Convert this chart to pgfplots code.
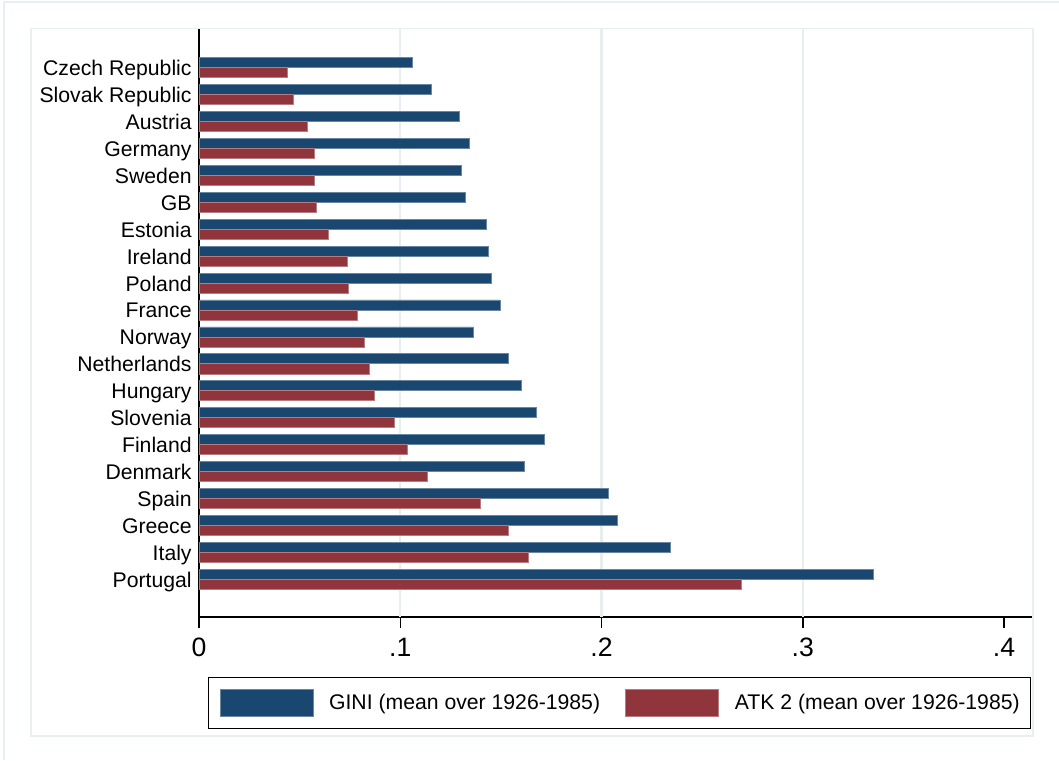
\documentclass[border=0pt]{standalone}
\usepackage{pgfplots}
\usepackage{pgfplotstable}
\pgfplotsset{compat=1.18}
\usepackage{fontspec}
\setmainfont{Liberation Sans}

\definecolor{stnavy}{RGB}{26,71,111}
\definecolor{stmaroon}{RGB}{144,53,59}
\definecolor{gridblue}{RGB}{230,238,240}
\definecolor{framegray}{RGB}{232,239,242}

% position (0 = bottom row), Gini and Atkinson(2) means over 1926-1985
\pgfplotstableread{
idx gini   atk
19  0.1058 0.0439
18  0.1154 0.0470
17  0.1295 0.0540
16  0.1342 0.0573
15  0.1302 0.0573
14  0.1322 0.0585
13  0.1430 0.0643
12  0.1440 0.0736
11  0.1453 0.0743
10  0.1498 0.0788
9   0.1363 0.0821
8   0.1536 0.0844
7   0.1602 0.0871
6   0.1677 0.0972
5   0.1716 0.1035
4   0.1619 0.1134
3   0.2036 0.1400
2   0.2080 0.1537
1   0.2342 0.1636
0   0.3353 0.2693
}\ineq

\begin{document}
\begin{tikzpicture}
  % canvas: 1 unit = one pixel of a 1059 x 760 graph, origin top left
  \begin{scope}[x=0.5pt,y=-0.5pt]
    \path[use as bounding box] (0,0) rectangle (1059,760);
    \draw[framegray, line width=1pt] (4,760) -- (4,2) -- (1059,2);
    \draw[framegray, line width=0.6pt] (31,28.5) rectangle (1033,736);
  \end{scope}

  \begin{axis}[
    at={(99.5pt,-308.5pt)}, anchor=south west,
    scale only axis,
    width=416.5pt, height=294.25pt,
    xmin=0, xmax=0.4139,
    ymin=-1.4, ymax=20.45,
    axis x line*=bottom, axis y line*=left,
    axis line style={line width=0.75pt, black, -},
    xtick={0,0.1,0.2,0.3,0.4},
    xticklabels={0,.1,.2,.3,.4},
    xtick align=outside,
    major tick length=5.5pt,
    every tick/.style={black, line width=0.75pt},
    extra x ticks={0.1,0.2,0.3},
    extra x tick labels={},
    extra x tick style={grid=major, major tick length=0pt},
    grid style={gridblue, line width=1.1pt},
    xticklabel style={font=\fontsize{13.3}{15}\selectfont, inner sep=0pt, anchor=north, yshift=-5pt},
    /pgf/number format/assume math mode=true,
    ytick={0,...,19},
    yticklabels={Portugal,Italy,Greece,Spain,Denmark,Finland,Slovenia,Hungary,Netherlands,Norway,France,Poland,Ireland,Estonia,GB,Sweden,Germany,Austria,Slovak Republic,Czech Republic},
    y tick style={draw=none},
    yticklabel style={font=\fontsize{10.6}{12}\selectfont, inner sep=0pt, anchor=base east, xshift=2pt, yshift=-4pt},
    xbar, bar width=0.372,
    legend columns=2,
    legend style={
      at={(0.0108,-0.1014)}, anchor=north west,
      draw=black, line width=0.6pt,
      inner xsep=5.5pt, inner ysep=5.8pt,
      font=\fontsize{10.6}{12}\selectfont,
      nodes={inner sep=0pt},
      /tikz/every odd column/.append style={column sep=7.85pt},
      /tikz/every even column/.append style={column sep=12.65pt},
    },
    legend image code/.code={
      \filldraw[#1, line width=0.4pt] (0pt,-6.85pt) rectangle (46.5pt,6.85pt);
    },
  ]
    \addplot[fill=stnavy, draw=stnavy!65!white, line width=0.35pt, bar shift=0.186]
      table[x=gini, y=idx]{\ineq};
    \addplot[fill=stmaroon, draw=stmaroon!65!white, line width=0.35pt, bar shift=-0.186]
      table[x=atk, y=idx]{\ineq};
    \legend{GINI (mean over 1926-1985), ATK 2 (mean over 1926-1985)}
  \end{axis}
\end{tikzpicture}
\end{document}
